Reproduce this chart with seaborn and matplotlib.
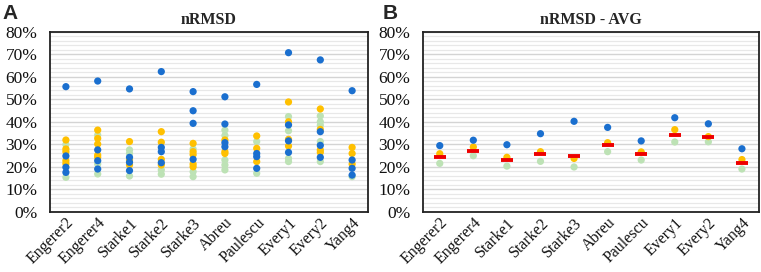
import pandas as pd
import seaborn as sns
import matplotlib.pyplot as plt
from matplotlib.ticker import MultipleLocator, FuncFormatter

# categories
models = ['Engerer2', 'Engerer4', 'Starke1', 'Starke2', 'Starke3',
          'Abreu', 'Paulescu', 'Every1', 'Every2', 'Yang4']

# panel A: nRMSD (%) of every case, one list per model
green_a = [[30, 15.4], [34.2, 21.3, 16.9], [27.6, 26, 16], [18.7, 16.8],
           [28, 17.9, 15.7], [36.4, 34, 23.1, 20.9, 18.7], [31.3, 17.2],
           [42.4, 36.1, 23.8, 22.4], [42.7, 40.1, 38.5, 31.3, 22.4], [15.7]]
yellow_a = [[32, 28, 26.8, 22.8, 21.5], [36.4, 32.7, 30.2, 25.3, 24.3],
            [31.3, 23.1, 20.9], [35.7, 31, 23.4, 20.9],
            [30.5, 26.8, 25.5, 21.3, 20.1], [32, 26.8, 26],
            [33.8, 28.3, 22.4], [48.9, 40.1, 32.3, 29.3],
            [45.8, 36.7, 27.6, 26.5], [28.7, 26, 21.3]]
blue_a = [[55.7, 24.9, 19.9, 17.6], [58.2, 27.6, 22.8, 19.1],
          [54.7, 24.3, 22.1, 18.4], [62.4, 28.7, 26.8, 21.9],
          [53.5, 45, 39.4, 23.4], [51.2, 39.1, 30.8, 29],
          [56.7, 26, 24.6, 19.4], [70.8, 38.7, 31.6, 26.5],
          [67.6, 35.7, 29.6, 24.3], [53.9, 23.1, 19.4, 16.4]]

# panel B: averages (%)
blue_b = [29.5, 31.9, 29.9, 34.8, 40.3, 37.6, 31.6, 41.9, 39.2, 28.1]
yellow_b = [25.9, 28.9, 24.3, 26.8, 23.8, 30.8, 26.7, 36.6, 33.5, 23.3]
green_b = [21.6, 25.0, 20.4, 22.5, 20.0, 26.8, 23.1, 31.1, 31.2, 19.1]
avg_b = [24.3, 27.1, 23.0, 25.8, 24.7, 29.8, 25.6, 34.4, 33.3, 21.8]

BLUE = '#1a6fcf'
YELLOW = '#ffc000'
GREEN = '#bde2b5'
RED = '#ee0000'

sns.set_theme(style='white')
plt.rcParams['font.family'] = ['Liberation Serif', 'DejaVu Serif']

rows = []
for grp, data in [('g', green_a), ('y', yellow_a), ('b', blue_a)]:
    for m, vals in zip(models, data):
        for v in vals:
            rows.append((m, v, grp))
dfa = pd.DataFrame(rows, columns=['model', 'val', 'grp'])

dfb = pd.DataFrame({'model': models * 3,
                    'val': green_b + yellow_b + blue_b,
                    'grp': ['g'] * 10 + ['y'] * 10 + ['b'] * 10})

pal = {'g': GREEN, 'y': YELLOW, 'b': BLUE}

fig = plt.figure(figsize=(7.61, 2.72), dpi=100)
axA = fig.add_axes([0.0657, 0.2206, 0.4179, 0.6618])
axB = fig.add_axes([0.5558, 0.2206, 0.4412, 0.6618])

sns.stripplot(data=dfa, x='model', y='val', hue='grp', palette=pal,
              order=models, jitter=False, size=5.2, linewidth=0,
              legend=False, ax=axA)
sns.stripplot(data=dfb, x='model', y='val', hue='grp', palette=pal,
              order=models, jitter=False, size=5.2, linewidth=0,
              legend=False, ax=axB)
sns.scatterplot(x=models, y=avg_b, marker='_', s=70, color=RED,
                linewidth=2.8, ax=axB, zorder=5)

for ax, title in [(axA, 'nRMSD'), (axB, 'nRMSD - AVG')]:
    ax.set_ylim(0, 80)
    ax.set_xlim(-0.5, 9.5)
    ax.yaxis.set_major_locator(MultipleLocator(10))
    ax.yaxis.set_minor_locator(MultipleLocator(2))
    ax.yaxis.set_major_formatter(FuncFormatter(lambda v, p: f'{v:.0f}%'))
    ax.grid(which='major', axis='y', color='#d4d4d4', lw=1.0)
    ax.grid(which='minor', axis='y', color='#e8e8e8', lw=0.9)
    ax.set_axisbelow(True)
    ax.set_xlabel('')
    ax.set_ylabel('')
    ax.tick_params(axis='both', which='both', length=0, colors='#111111')
    ax.tick_params(axis='y', pad=9, labelsize=12.5)
    ax.tick_params(axis='x', pad=2, labelsize=11.5)
    plt.setp(ax.get_xticklabels(), rotation=45, ha='right',
             rotation_mode='anchor')
    for s in ax.spines.values():
        s.set_color('#222222')
        s.set_linewidth(1.3)
    ax.set_title(title, fontsize=11.5, fontweight='bold', pad=6)

fig.text(0.003, 0.985, 'A', fontsize=15, fontweight='bold', va='top',
         family=['Liberation Sans', 'DejaVu Sans'])
fig.text(0.503, 0.985, 'B', fontsize=15, fontweight='bold', va='top',
         family=['Liberation Sans', 'DejaVu Sans'])

fig.savefig('out.png', dpi=100)
